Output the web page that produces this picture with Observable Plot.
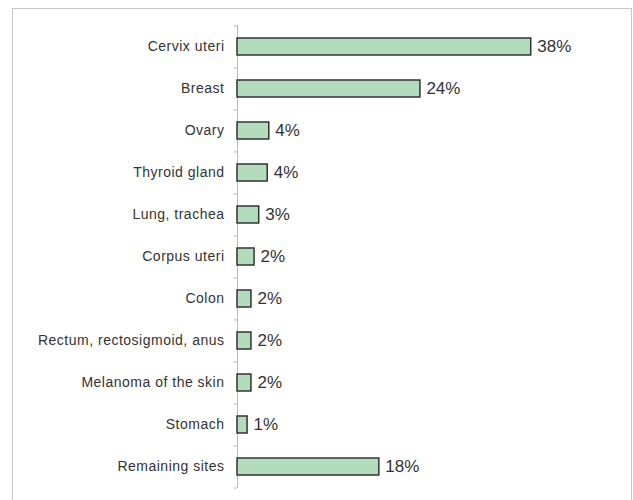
<!DOCTYPE html>
<html>
<head>
<meta charset="utf-8">
<script src="https://cdn.jsdelivr.net/npm/d3@7"></script>
<script src="https://cdn.jsdelivr.net/npm/@observablehq/plot@0.6"></script>
<style>
  html, body { margin: 0; padding: 0; background: #fff; }
  #wrap { position: relative; width: 633px; height: 500px; overflow: hidden; }
  #box { position: absolute; left: 12px; top: 8px; width: 620px; height: 600px; border: 1px solid #c8c8c8; box-sizing: border-box; }
  #chart { position: absolute; left: 0; top: 0; }
  .cat text { letter-spacing: 0.5px; }
</style>
</head>
<body>
<div id="wrap"><div id="box"></div><div id="chart"></div></div>
<script>
const sites = ["Cervix uteri", "Breast", "Ovary", "Thyroid gland", "Lung, trachea", "Corpus uteri", "Colon", "Rectum, rectosigmoid, anus", "Melanoma of the skin", "Stomach", "Remaining sites"];
const shares = [37.9, 23.6, 4.1, 3.9, 2.8, 2.2, 1.8, 1.8, 1.8, 1.3, 18.3];

const data = sites.map((s, i) => ({site: s, share: shares[i]}));
const step = (500 - 25 - 12) / sites.length;

const chart = Plot.plot({
  width: 633,
  height: 500,
  marginLeft: 237,
  marginRight: 86,
  marginTop: 25,
  marginBottom: 12,
  style: {fontFamily: "Liberation Sans, Arial, sans-serif", background: "transparent"},
  x: {domain: [0, 40], axis: null},
  y: {domain: sites, paddingInner: 0.6, paddingOuter: 0.3, axis: null},
  marks: [
    Plot.ruleX([0], {stroke: "#b8b8b8", strokeWidth: 1}),
    Plot.ruleY(sites, {y: d => d, x1: -0.45, x2: 0, dy: -step / 2, stroke: "#b8b8b8"}),
    Plot.ruleY([sites[sites.length - 1]], {y: d => d, x1: -0.45, x2: 0, dy: step / 2, stroke: "#b8b8b8"}),
    Plot.barX(data, {x: "share", y: "site", fill: "#b3dcbc", stroke: "#333", strokeWidth: 1.5}),
    Plot.text(data, {x: "share", y: "site", text: d => Math.round(d.share) + "%", textAnchor: "start", dx: 6, fontSize: 17, fill: "#333"}),
    Plot.text(data, {x: 0, y: "site", text: "site", textAnchor: "end", dx: -13, fontSize: 14, fill: "#333", className: "cat"})
  ]
});
document.getElementById("chart").appendChild(chart);
</script>
</body>
</html>
